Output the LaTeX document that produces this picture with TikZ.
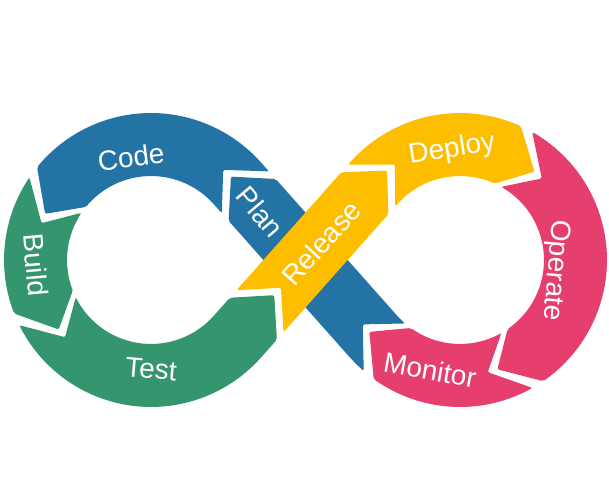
\documentclass[tikz,border=0pt]{standalone}
\usepackage{fontspec}
\setmainfont{Liberation Sans}

\definecolor{planblue}{HTML}{2373A4}
\definecolor{buildgreen}{HTML}{35956E}
\definecolor{releaseyellow}{HTML}{FDBE00}
\definecolor{operatepink}{HTML}{E63E6D}

% Loop geometry (1pt = 1px of the picture)
\def\Lx{151}\def\Rx{460}\def\Cy{240}
\def\rr{115.5}\def\ww{31.5}
\pgfmathsetmacro\al{asin(\rr/154.5)}
\pgfmathsetmacro\ca{cos(\al)}
\pgfmathsetmacro\sn{sin(\al)}
\pgfmathsetmacro\be{90-\al}
\pgfmathsetmacro\arcl{rad(360-2*\be)*\rr}
\pgfmathsetmacro\strl{2*154.5*\ca}
\pgfmathsetmacro\tot{2*(\arcl+\strl)}

\tikzset{
  declare function={
    bxt(\vT,\vO)=ifthenelse(\vT<\arcl, \Lx+(\rr-\vO)*cos(\be+deg(\vT/\rr)),
      ifthenelse(\vT<\arcl+\strl, \Lx+\rr*\sn+(\vT-\arcl)*\ca-\vO*\sn,
      ifthenelse(\vT<2*\arcl+\strl, \Rx+(\rr+\vO)*cos(180-\be-deg((\vT-\arcl-\strl)/\rr)),
      \Rx-\rr*\sn-(\vT-2*\arcl-\strl)*\ca-\vO*\sn)));
    byt(\vT,\vO)=ifthenelse(\vT<\arcl, \Cy+(\rr-\vO)*sin(\be+deg(\vT/\rr)),
      ifthenelse(\vT<\arcl+\strl, \Cy-\rr*\ca+(\vT-\arcl)*\sn+\vO*\ca,
      ifthenelse(\vT<2*\arcl+\strl, \Cy+(\rr+\vO)*sin(180-\be-deg((\vT-\arcl-\strl)/\rr)),
      \Cy-\rr*\ca+(\vT-2*\arcl-\strl)*\sn-\vO*\ca)));
    bx(\vS,\vO)=bxt(\vS-\tot*floor(\vS/\tot),\vO);
    by(\vS,\vO)=byt(\vS-\tot*floor(\vS/\tot),\vO);
  },
  phase/.style={text=white,inner sep=0pt,font=\fontsize{28}{32}\selectfont},
}

\begin{document}
\begin{tikzpicture}[x=1pt,y=1pt]
\useasboundingbox (0,0) rectangle (609,500);

% Arrow segments along the loop (colour/start/end); Release last, over Plan
\foreach \col/\a/\e in {planblue/1306/1504, planblue/1514.25/1726.25,
    buildgreen/210/322, buildgreen/332/582, releaseyellow/760/910,
    operatepink/920/1154, operatepink/1164/1296, releaseyellow/592/750} {
  \pgfmathsetmacro\sb{\a+5}\pgfmathsetmacro\sc{\a+10}\pgfmathsetmacro\sm{\e-2}
  \pgfmathsetmacro\eb{\e-5}\pgfmathsetmacro\ec{\e-10}\pgfmathsetmacro\am{\a+2}
  \fill[\col,rounded corners=2pt]
    ({bx(\a+\ww,0)},{by(\a+\ww,0)})
    -- ({bx(\a,\ww)},{by(\a,\ww)})
    \foreach \k in {\sb,\sc,...,\sm} { -- ({bx(\k,\ww)},{by(\k,\ww)}) }
    -- ({bx(\e,\ww)},{by(\e,\ww)})
    -- ({bx(\e+\ww,0)},{by(\e+\ww,0)})
    -- ({bx(\e,-\ww)},{by(\e,-\ww)})
    \foreach \k in {\eb,\ec,...,\am} { -- ({bx(\k,-\ww)},{by(\k,-\ww)}) }
    -- ({bx(\a,-\ww)},{by(\a,-\ww)})
    -- cycle;
}

% Phase labels
\node[phase,rotate=7] (code) at (131,343) {Code};
\node[phase,rotate=-85] (build) at (36,235) {Build};
\node[phase,rotate=-5] (test) at (151,131) {Test};
\node[phase,rotate=-50] (plan) at (260,288) {Plan};
\node[phase,rotate=48] (release) at (321,257) {Release};
\node[phase,rotate=9] (deploy) at (452,350) {Deploy};
\node[phase,rotate=-95] (operate) at (555,230) {Operate};
\node[phase,rotate=-10] (monitor) at (430,130) {Monitor};
\end{tikzpicture}
\end{document}
